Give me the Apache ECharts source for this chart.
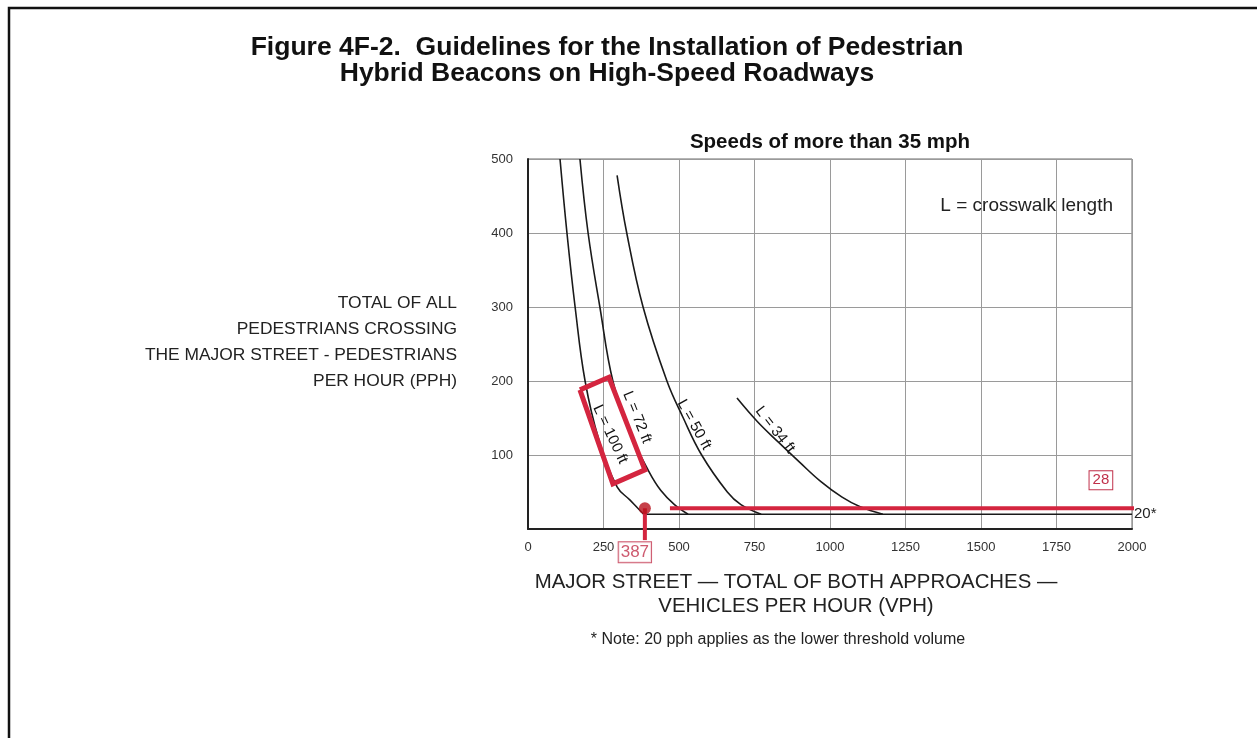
<!DOCTYPE html>
<html>
<head>
<meta charset="utf-8">
<title>Figure 4F-2</title>
<script src="https://cdn.jsdelivr.net/npm/echarts@6/dist/echarts.min.js"></script>
<style>
  html, body { margin: 0; padding: 0; background: #fff; }
  #chart { width: 1257px; height: 738px; }
</style>
</head>
<body>
<div id="chart"></div>
<script>
// Axis ranges and ticks
const xTicks = [0, 250, 500, 750, 1000, 1250, 1500, 1750, 2000];
const yTicks = [0, 100, 200, 300, 400, 500];

// Warrant curves: [vehicles per hour, pedestrians per hour]
const curveL100 = [[106, 500], [129, 400], [156, 300], [189, 200], [235, 120], [295, 57], [338, 39], [383, 20]];
const curveL72  = [[172, 500], [199, 400], [238, 300], [281, 200], [338, 130], [400, 78], [440, 52], [485, 33], [530, 20]];
const curveL50  = [[295, 478], [327, 400], [381, 300], [460, 200], [513, 151], [575, 100], [660, 50], [705, 33], [772, 20]];
const curveL34  = [[692, 177], [760, 145], [830, 117], [900, 90], [970, 64], [1040, 43], [1100, 30], [1175, 20]];

// Lower threshold volume (20 pph)
const thresholdLine = [[383, 20], [2000, 20]];

// Worked example: 387 vph, 28 pph
const exampleVph = 387;
const examplePph = 28;
const exampleLine = [[470, 28], [2025, 28]];
const exampleDrop = [[387, 28], [387, -15]];
const highlightBox = [[172, 188], [268, 205], [387, 80], [281, 61], [172, 188]];

const FONT = "'Liberation Sans', Arial, Helvetica, sans-serif";
const RED = '#d4253f';
const LABEL_RED = '#c0304a';

const chart = echarts.init(document.getElementById('chart'), null, { renderer: 'canvas' });

function curveSeries(name, data, labelCoord, rotate) {
  return {
    name: name,
    type: 'line',
    data: data,
    smooth: 0.4,
    showSymbol: false,
    symbol: 'none',
    lineStyle: { color: '#1a1a1a', width: 1.6 },
    z: 3,
    markPoint: {
      symbol: 'circle',
      symbolSize: 0,
      silent: true,
      data: [{
        coord: labelCoord,
        label: {
          show: true,
          formatter: name,
          rotate: rotate,
          color: '#111',
          fontFamily: FONT,
          fontSize: 15,
          position: 'inside'
        }
      }]
    }
  };
}

const option = {
  backgroundColor: '#ffffff',
  animation: false,
  textStyle: { fontFamily: FONT },
  grid: {
    left: 528, right: 125, top: 159, bottom: 209,
    show: true, borderColor: '#6b6b6b', borderWidth: 1
  },
  xAxis: {
    type: 'value',
    min: xTicks[0], max: xTicks[xTicks.length - 1], interval: 250,
    axisLine: { show: true, lineStyle: { color: '#222', width: 2 } },
    axisTick: { show: false },
    splitLine: { show: true, lineStyle: { color: '#9a9a9a', width: 1 } },
    axisLabel: { color: '#333', fontSize: 13, margin: 12, fontFamily: FONT, formatter: v => String(v) }
  },
  yAxis: {
    type: 'value',
    min: yTicks[0], max: yTicks[yTicks.length - 1], interval: 100,
    axisLine: { show: true, lineStyle: { color: '#222', width: 2 } },
    axisTick: { show: false },
    splitLine: { show: true, lineStyle: { color: '#9a9a9a', width: 1 } },
    axisLabel: {
      color: '#333', fontSize: 13, margin: 15, fontFamily: FONT,
      formatter: v => (v === 0 ? '' : String(v))
    }
  },
  series: [
    curveSeries('L = 100 ft', curveL100, [272, 128], -65),
    curveSeries('L = 72 ft', curveL72, [361, 151], -68),
    curveSeries('L = 50 ft', curveL50, [550, 141], -61),
    curveSeries('L = 34 ft', curveL34, [818, 134], -52),
    {
      name: 'threshold',
      type: 'line',
      data: thresholdLine,
      showSymbol: false,
      symbol: 'none',
      lineStyle: { color: '#1a1a1a', width: 1.6 },
      z: 3,
      markPoint: {
        symbolSize: 0, silent: true,
        data: [{
          coord: [2000, 20],
          label: { show: true, formatter: '20*', position: 'right', distance: 2, color: '#222', fontSize: 15, fontFamily: FONT }
        }]
      }
    },
    {
      name: 'highlight',
      type: 'line',
      data: highlightBox,
      showSymbol: false,
      symbol: 'none',
      lineStyle: { color: RED, width: 5, join: 'miter' },
      z: 4
    },
    {
      name: 'example pph',
      type: 'line',
      data: exampleLine,
      clip: false,
      showSymbol: false,
      symbol: 'none',
      lineStyle: { color: RED, width: 4 },
      z: 5,
      markPoint: {
        symbolSize: 0, silent: true,
        data: [{
          coord: [1897, examplePph],
          label: {
            show: true, formatter: String(examplePph), position: 'inside', offset: [0, -28],
            color: LABEL_RED, fontSize: 15, fontFamily: FONT,
            borderColor: LABEL_RED, borderWidth: 1, padding: [2, 3, 1, 3], backgroundColor: '#fff'
          }
        }]
      }
    },
    {
      name: 'example vph',
      type: 'line',
      data: exampleDrop,
      clip: false,
      showSymbol: false,
      symbol: 'none',
      lineStyle: { color: RED, width: 4 },
      z: 5
    },
    {
      name: 'example point',
      type: 'scatter',
      data: [[exampleVph, examplePph]],
      symbolSize: 12,
      itemStyle: { color: '#b8101c' },
      z: 6,
      label: {
        show: true,
        formatter: () => String(exampleVph),
        position: 'inside',
        offset: [-10, 44],
        color: LABEL_RED, fontSize: 17, fontFamily: FONT,
        borderColor: LABEL_RED, borderWidth: 1, padding: [2, 2, 1, 2], backgroundColor: '#fff'
      }
    }
  ],
  graphic: [
    {
      type: 'rect', silent: true, z: 100,
      shape: { x: 9, y: 8, width: 1300, height: 800 },
      style: { fill: 'none', stroke: '#111', lineWidth: 2.5 }
    },
    {
      type: 'text', z: 100,
      x: 607, y: 35,
      style: {
        text: 'Figure 4F-2.  Guidelines for the Installation of Pedestrian\nHybrid Beacons on High-Speed Roadways',
        font: 'bold 26.5px ' + FONT, fill: '#111', align: 'center', verticalAlign: 'top', lineHeight: 26
      }
    },
    {
      type: 'text', z: 100,
      x: 830, y: 132,
      style: { text: 'Speeds of more than 35 mph', font: 'bold 20.5px ' + FONT, fill: '#111', align: 'center', verticalAlign: 'top' }
    },
    {
      type: 'text', z: 100,
      x: 1113, y: 196,
      style: { text: 'L = crosswalk length', font: '19px ' + FONT, fill: '#222', align: 'right', verticalAlign: 'top' }
    },
    {
      type: 'text', z: 100,
      x: 457, y: 290,
      style: {
        text: 'TOTAL OF ALL\nPEDESTRIANS CROSSING\nTHE MAJOR STREET - PEDESTRIANS\nPER HOUR (PPH)',
        font: '17.4px ' + FONT, fill: '#222', align: 'right', verticalAlign: 'top', lineHeight: 26
      }
    },
    {
      type: 'text', z: 100,
      x: 796, y: 570,
      style: {
        text: 'MAJOR STREET \u2014 TOTAL OF BOTH APPROACHES \u2014\nVEHICLES PER HOUR (VPH)',
        font: '20.4px ' + FONT, fill: '#222', align: 'center', verticalAlign: 'top', lineHeight: 24
      }
    },
    {
      type: 'text', z: 100,
      x: 778, y: 632,
      style: { text: '* Note: 20 pph applies as the lower threshold volume', font: '16px ' + FONT, fill: '#222', align: 'center', verticalAlign: 'top' }
    }
  ]
};

chart.setOption(option);
</script>
</body>
</html>
